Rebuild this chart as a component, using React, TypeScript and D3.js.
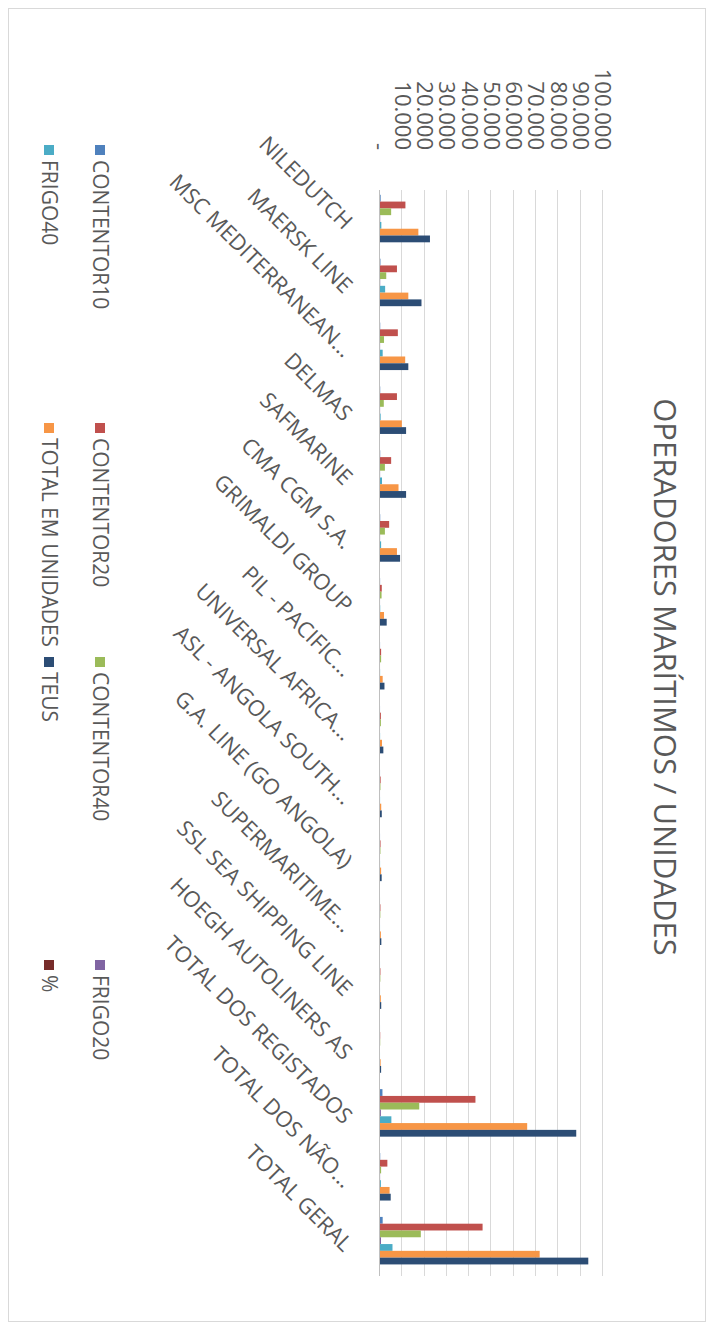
import React, { useEffect, useRef } from 'react';
import * as d3 from 'd3';

// chart is an Excel column chart turned 90deg clockwise on the page
const categories = [
  "NILEDUTCH",
  "MAERSK LINE",
  "MSC MEDITERRANEAN...",
  "DELMAS",
  "SAFMARINE",
  "CMA CGM S.A.",
  "GRIMALDI GROUP",
  "PIL - PACIFIC...",
  "UNIVERSAL AFRICA...",
  "ASL - ANGOLA SOUTH...",
  "G.A. LINE (GO ANGOLA)",
  "SUPERMARITIME...",
  "SSL SEA SHIPPING LINE",
  "HOEGH AUTOLINERS AS",
  "TOTAL DOS REGISTADOS",
  "TOTAL DOS NÃO...",
  "TOTAL GERAL",
];

const contentor10 = [300, 200, 100, 100, 100, 100, 50, 30, 20, 20, 20, 10, 10, 10, 1100, 100, 1200];
const contentor20 = [11400, 7600, 8000, 7600, 5000, 4100, 800, 500, 400, 300, 250, 200, 200, 100, 42800, 3300, 46000];
const contentor40 = [5000, 2800, 1800, 1700, 2200, 2200, 700, 500, 400, 200, 200, 150, 150, 100, 17600, 500, 18300];
const frigo20 = [100, 100, 50, 50, 50, 50, 20, 10, 10, 10, 10, 10, 10, 0, 400, 50, 450];
const frigo40 = [600, 2300, 1200, 300, 900, 500, 100, 50, 50, 30, 30, 20, 20, 10, 5100, 400, 5600];
const totalUnidades = [17200, 12700, 11300, 9800, 8300, 7600, 1800, 1200, 900, 550, 500, 400, 380, 300, 66000, 4300, 71600];
const teus = [22400, 18600, 12700, 11700, 11700, 9000, 3000, 2000, 1500, 800, 750, 600, 550, 500, 88000, 4800, 93400];
const percent = [0.24, 0.18, 0.16, 0.14, 0.12, 0.11, 0.03, 0.02, 0.01, 0.01, 0.01, 0.01, 0.01, 0, 0.94, 0.06, 1];

const seriesNames = ["CONTENTOR10", "CONTENTOR20", "CONTENTOR40", "FRIGO20", "FRIGO40", "TOTAL EM UNIDADES", "TEUS", "%"];
const seriesColors = ["#4F81BD", "#C0504D", "#9BBB59", "#8064A2", "#4BACC6", "#F79646", "#2C4D75", "#772C2A"];
const valueTicks = [0, 10000, 20000, 30000, 40000, 50000, 60000, 70000, 80000, 90000, 100000];

const title = "OPERADORES MARÍTIMOS / UNIDADES";

const App: React.FC = () => {
  const svgRef = useRef<SVGSVGElement>(null);

  useEffect(() => {
    if (!svgRef.current) return;
    const svg = d3.select(svgRef.current);
    svg.selectAll("*").remove();

    const pageW = 714;
    const pageH = 1330;
    const textColor = "#595959";
    const font = "'Open Sans', 'Liberation Sans', sans-serif";

    // outer chart border
    svg.append("rect")
      .attr("x", 8.5).attr("y", 8.5)
      .attr("width", pageW - 17).attr("height", pageH - 17)
      .attr("fill", "#fff")
      .attr("stroke", "#D9D9D9");

    // unrotated frame: width = pageH, height = pageW
    const g = svg.append("g")
      .attr("transform", `translate(${pageW},0) rotate(90)`)
      .style("font-family", font);

    const plotLeft = 190;
    const plotRight = 1276;

    const x0 = d3.scaleBand<string>()
      .domain(categories)
      .range([plotLeft, plotRight])
      .paddingInner(0.15)
      .paddingOuter(0.075);

    const x1 = d3.scaleBand<string>()
      .domain(seriesNames)
      .range([0, x0.bandwidth()]);

    const y = d3.scaleLinear()
      .domain([0, 100000])
      .range([334, 111]);

    const locale = d3.formatLocale({ decimal: ",", thousands: ".", grouping: [3], currency: ["", ""] });
    const fmt = locale.format(",.0f");

    // gridlines
    g.append("g")
      .selectAll("line")
      .data(valueTicks)
      .enter()
      .append("line")
      .attr("x1", plotLeft).attr("x2", plotRight)
      .attr("y1", d => Math.round(y(d)) + 0.5)
      .attr("y2", d => Math.round(y(d)) + 0.5)
      .attr("stroke", d => d === 0 ? "#BFBFBF" : "#D9D9D9")
      .attr("stroke-width", 1);

    // value tick labels
    g.append("g")
      .selectAll("text")
      .data(valueTicks)
      .enter()
      .append("text")
      .attr("x", 150)
      .attr("y", d => y(d))
      .attr("dy", "0.35em")
      .attr("text-anchor", "end")
      .attr("font-size", 22)
      .attr("fill", textColor)
      .text(d => d === 0 ? "-" : fmt(d));

    // bars
    const seriesValues = [contentor10, contentor20, contentor40, frigo20, frigo40, totalUnidades, teus, percent];
    const rows = categories.map((c, i) => ({
      category: c,
      values: seriesNames.map((s, j) => ({ series: s, color: seriesColors[j], value: seriesValues[j][i] })),
    }));

    const groups = g.append("g")
      .selectAll("g")
      .data(rows)
      .enter()
      .append("g")
      .attr("transform", d => `translate(${x0(d.category)},0)`);

    groups.selectAll("rect")
      .data(d => d.values)
      .enter()
      .append("rect")
      .attr("x", d => x1(d.series) || 0)
      .attr("width", x1.bandwidth())
      .attr("y", d => y(d.value))
      .attr("height", d => y(0) - y(d.value))
      .attr("fill", d => d.color);

    // category labels, -45deg like Excel
    g.append("g")
      .selectAll("text")
      .data(categories)
      .enter()
      .append("text")
      .attr("transform", d => `translate(${(x0(d) || 0) + x0.bandwidth() / 2 - 2},${y(0) + 26}) rotate(-45)`)
      .attr("text-anchor", "end")
      .attr("dy", "0.7em")
      .attr("font-size", 22)
      .attr("fill", textColor)
      .text(d => d);

    // title
    g.append("text")
      .attr("x", 677)
      .attr("y", 49)
      .attr("dy", "0.35em")
      .attr("text-anchor", "middle")
      .attr("font-size", 31)
      .attr("fill", textColor)
      .text(title);

    // legend: 4 columns x 2 rows
    const legendCols = [150, 428, 662, 965];
    const legendRows = [614, 665];
    const legend = g.append("g")
      .selectAll("g")
      .data(seriesNames)
      .enter()
      .append("g")
      .attr("transform", (_, i) => `translate(${legendCols[i % 4]},${legendRows[Math.floor(i / 4)]})`);

    legend.append("rect")
      .attr("x", -5).attr("y", -5)
      .attr("width", 10).attr("height", 10)
      .attr("fill", (_, i) => seriesColors[i]);

    legend.append("text")
      .attr("x", 10)
      .attr("dy", "0.35em")
      .attr("font-size", 21)
      .attr("fill", textColor)
      .text(d => d);
  }, []);

  return (
    <svg
      ref={svgRef}
      width={714}
      height={1330}
      style={{ position: 'absolute', left: 0, top: 0 }}
    />
  );
};

export default App;
